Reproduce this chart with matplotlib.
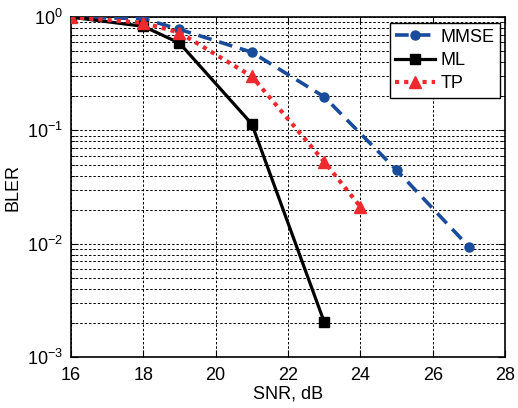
import matplotlib
matplotlib.use("Agg")
import matplotlib.pyplot as plt
from matplotlib.ticker import LogLocator, NullFormatter

plt.rcParams['font.family'] = ['Liberation Sans', 'DejaVu Sans']
plt.rcParams['mathtext.fontset'] = 'custom'
plt.rcParams['mathtext.rm'] = 'Liberation Sans'
plt.rcParams['mathtext.it'] = 'Liberation Sans:italic'
plt.rcParams['mathtext.bf'] = 'Liberation Sans:bold'

snr_mmse = [16, 18, 19, 21, 23, 25, 27]
bler_mmse = [1.0, 0.97, 0.78, 0.49, 0.198, 0.0447, 0.0094]
snr_ml = [16, 18, 19, 21, 23]
bler_ml = [1.0, 0.83, 0.59, 0.114, 0.00204]
snr_tp = [16, 18, 19, 21, 23, 24]
bler_tp = [1.0, 0.89, 0.73, 0.30, 0.053, 0.0212]

xticks = [16, 18, 20, 22, 24, 26, 28]

fig = plt.figure(figsize=(5.18, 4.08), dpi=100)
ax = fig.add_axes([0.137, 0.125, 0.838, 0.833])

blue = '#1a4c9c'
red = '#ee2a2e'
ax.plot(snr_mmse, bler_mmse, color=blue, ls=(0, (3.8, 2.2)), lw=2.6, marker='o', ms=6.5, label='MMSE', zorder=3)
ax.plot(snr_ml, bler_ml, color='black', ls='-', lw=2.3, marker='s', ms=7.5, label='ML', zorder=4)
ax.plot(snr_tp, bler_tp, color=red, ls=(0, (1, 1.2)), lw=3.0, marker='^', ms=9, label='TP', zorder=5)

ax.set_yscale('log')
ax.set_xlim(16, 28)
ax.set_ylim(1e-3, 1)
ax.set_xticks(xticks)
ax.set_xticklabels([str(t) for t in xticks])
ax.yaxis.set_major_locator(LogLocator(base=10, numticks=10))
ax.yaxis.set_minor_locator(LogLocator(base=10, subs=range(2, 10), numticks=10))
ax.yaxis.set_minor_formatter(NullFormatter())

ax.grid(True, which='major', color='black', ls=(0, (2.5, 2)), lw=0.7)
ax.grid(True, which='minor', axis='y', color='black', ls=(0, (2.5, 2)), lw=0.7)
ax.tick_params(which='both', direction='in', top=True, right=True, labelsize=13)
ax.tick_params(which='major', length=5)
ax.tick_params(which='minor', length=3)
ax.tick_params(axis='x', pad=7)
ax.tick_params(axis='y', pad=6)
for s in ax.spines.values():
    s.set_linewidth(1.2)

ax.set_xlabel('SNR, dB', fontsize=13, labelpad=1)
ax.set_ylabel('BLER', fontsize=13, labelpad=4)

leg = ax.legend(loc='upper right', fontsize=13, frameon=True, fancybox=False,
                edgecolor='black', framealpha=1, handlelength=2.2,
                borderpad=0.3, labelspacing=0.35, handletextpad=0.3,
                borderaxespad=0.0,
                bbox_to_anchor=(0.988, 0.982))
leg.get_frame().set_linewidth(1.0)

fig.savefig('out.png', dpi=100)
